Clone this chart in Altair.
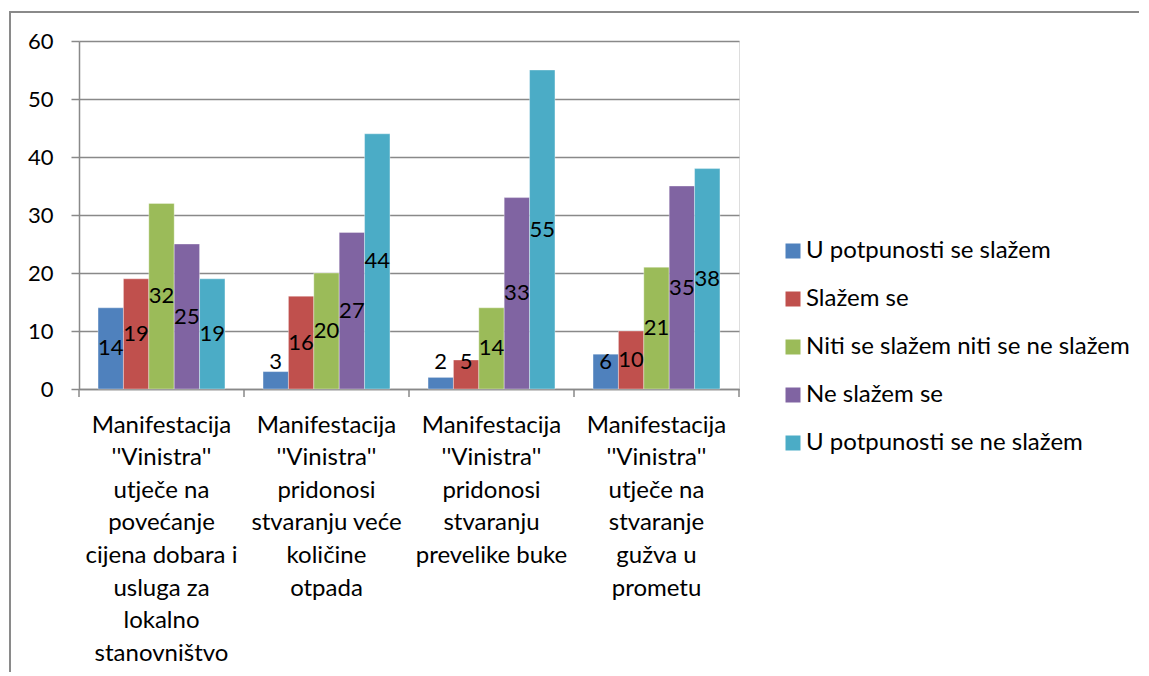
import altair as alt
import pandas as pd

categories = [
    "Manifestacija|''Vinistra''|utječe na|povećanje|cijena dobara i|usluga za|lokalno|stanovništvo",
    "Manifestacija|''Vinistra''|pridonosi|stvaranju veće|količine|otpada",
    "Manifestacija|''Vinistra''|pridonosi|stvaranju|prevelike buke",
    "Manifestacija|''Vinistra''|utječe na|stvaranje|gužva u|prometu",
]
series = [
    "U potpunosti se slažem",
    "Slažem se",
    "Niti se slažem niti se ne slažem",
    "Ne slažem se",
    "U potpunosti se ne slažem",
]
colors = ["#4F81BD", "#C0504D", "#9BBB59", "#8064A2", "#4BACC6"]
v_potpuno_slazem = [14, 3, 2, 6]
v_slazem = [19, 16, 5, 10]
v_niti = [32, 20, 14, 21]
v_ne_slazem = [25, 27, 33, 35]
v_potpuno_ne = [19, 44, 55, 38]
values = [v_potpuno_slazem, v_slazem, v_niti, v_ne_slazem, v_potpuno_ne]

rows = []
for s, vals in zip(series, values):
    for c, v in zip(categories, vals):
        rows.append({"cat": c, "series": s, "value": v})
df = pd.DataFrame(rows)

FONT = "Lato"
GRID = "#898989"

x_enc = alt.X("cat:N", sort=categories,
              scale=alt.Scale(paddingInner=0, paddingOuter=0),
              axis=alt.Axis(title=None, labelAngle=0, ticks=False,
                            labelExpr="split(datum.label, '|')",
                            labelFontSize=24, labelLineHeight=32.6,
                            labelPadding=36, labelColor="#000000",
                            labelFont=FONT, labelBaseline="middle",
                            domainColor=GRID, domainWidth=1.5,
                            labelLimit=300))
xoff = alt.XOffset("series:N", sort=series,
                   scale=alt.Scale(paddingInner=0, paddingOuter=0.75))

bars = alt.Chart(df).mark_bar(stroke="#ffffff", strokeOpacity=0.35, strokeWidth=1).encode(
    x=x_enc,
    xOffset=xoff,
    y=alt.Y("value:Q", scale=alt.Scale(domain=[0, 60], nice=False),
            axis=alt.Axis(title=None, values=[0, 10, 20, 30, 40, 50, 60],
                          grid=True, gridColor=GRID, gridWidth=1.5,
                          tickColor=GRID, tickSize=8, tickWidth=1.5,
                          domainColor=GRID, domainWidth=1.5,
                          labelFontSize=22, labelFont=FONT, labelColor="#000000",
                          labelPadding=18)),
    color=alt.Color("series:N", sort=series,
                    scale=alt.Scale(domain=series, range=colors),
                    legend=alt.Legend(title=None, orient="none", legendX=702,
                                      legendY=198, symbolType="square",
                                      symbolSize=225, symbolStrokeWidth=0,
                                      labelFontSize=24, labelFont=FONT,
                                      labelColor="#000000", rowPadding=24,
                                      labelOffset=1, labelLimit=500)),
)

labels = alt.Chart(df).transform_calculate(
    ly="max(datum.value / 2, 4.65)"
).mark_text(fontSize=22, font=FONT, color="#000000", baseline="middle").encode(
    x=alt.X("cat:N", sort=categories),
    xOffset=alt.XOffset("series:N", sort=series),
    y=alt.Y("ly:Q"),
    text=alt.Text("value:Q"),
)

main = alt.layer(bars, labels)

tick_df = pd.DataFrame({"b": [0, 1, 2, 3, 4]})
ticks = alt.Chart(tick_df).mark_rule(color=GRID, strokeWidth=1.5).encode(
    x=alt.X("b:Q", scale=alt.Scale(domain=[0, 4], nice=False), axis=None),
    y=alt.value(348),
    y2=alt.value(356),
)

border = alt.Chart(tick_df).mark_rect(fill=None, stroke="#8a8a8a", strokeWidth=1.5).encode(
    x=alt.value(-69), x2=alt.value(1061), y=alt.value(-29), y2=alt.value(720)
)

chart = alt.layer(border, main, ticks).resolve_scale(x="independent").properties(
    width=660, height=348,
    autosize=alt.AutoSizeParams(type="none"),
    padding={"left": 71, "top": 33, "right": 400, "bottom": 283},
).configure_view(stroke=None).configure(font=FONT)

chart.save("out.html", embed_options={"renderer": "svg", "actions": False})
